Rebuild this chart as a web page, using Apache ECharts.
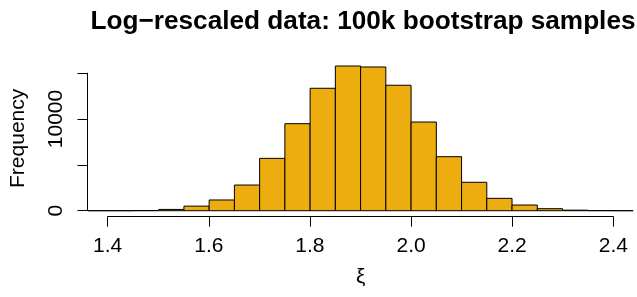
<!DOCTYPE html>
<html>
<head>
<meta charset="utf-8">
<script src="https://cdn.jsdelivr.net/npm/echarts@6/dist/echarts.min.js"></script>
<style>
  html, body { margin: 0; padding: 0; background: #fff; }
  #chart { width: 637px; height: 297px; }
</style>
</head>
<body>
<div id="chart"></div>
<script>
// histogram bins (0.05 wide) and counts
const binStarts = [1.35, 1.40, 1.45, 1.50, 1.55, 1.60, 1.65, 1.70, 1.75, 1.80, 1.85,
                   1.90, 1.95, 2.00, 2.05, 2.10, 2.15, 2.20, 2.25, 2.30, 2.35, 2.40];
const binWidth = 0.05;
const counts = [0, 2, 15, 140, 500, 1170, 2800, 5710, 9490, 13350, 15780,
                15670, 13680, 9670, 5890, 3100, 1350, 620, 220, 60, 10, 2];
const xTicks = [1.4, 1.6, 1.8, 2.0, 2.2, 2.4];
const yTicks = [0, 5000, 10000, 15000];
const yTickLabels = ['0', '', '10000', ''];

const font = "'Liberation Sans', Arial, Helvetica, sans-serif";

const histData = binStarts.map((s, i) => [s, +(s + binWidth).toFixed(2), counts[i]]);

const chart = echarts.init(document.getElementById('chart'));

chart.setOption({
  animation: false,
  title: {
    text: 'Log\u2212rescaled data: 100k bootstrap samples',
    left: 358,
    top: 4,
    textAlign: 'center',
    textStyle: { fontFamily: font, fontSize: 26.2, fontWeight: 'bold', color: '#000' }
  },
  grid: [
    // plot region (R usr with 4% padding)
    { left: 87.5, right: 3.8, top: 60.2, bottom: 80.5 },
    // x axis, spans 1.4 .. 2.4 only
    { left: 107.7, right: 23.7, top: 60.2, bottom: 80.3 },
    // y axis, spans 0 .. 15000 only
    { left: 87.5, right: 3.8, top: 73.2, bottom: 86.3 }
  ],
  xAxis: [
    {
      gridIndex: 0, type: 'value', min: 1.36, max: 2.44,
      axisLine: { show: false }, axisTick: { show: false },
      axisLabel: { show: false }, splitLine: { show: false },
      name: '\u03be', nameLocation: 'middle', nameGap: 50,
      nameTextStyle: { fontFamily: font, fontSize: 21, color: '#000' }
    },
    {
      gridIndex: 1, type: 'value', min: xTicks[0], max: xTicks[xTicks.length - 1], interval: 0.2,
      axisLine: { show: true, onZero: false, lineStyle: { color: '#000', width: 1 } },
      axisTick: { show: true, inside: false, length: 10, lineStyle: { color: '#000', width: 1 } },
      axisLabel: {
        margin: 19, fontFamily: font, fontSize: 21, color: '#000',
        formatter: v => v.toFixed(1)
      },
      splitLine: { show: false }
    },
    {
      gridIndex: 2, type: 'value', min: 0, max: 1, show: false
    }
  ],
  yAxis: [
    {
      gridIndex: 0, type: 'value', min: -631, max: 16411,
      axisLine: { show: false }, axisTick: { show: false },
      axisLabel: { show: false }, splitLine: { show: false },
      name: 'Frequency', nameLocation: 'middle', nameGap: 59, nameRotate: 90,
      nameTextStyle: { fontFamily: font, fontSize: 21, color: '#000' }
    },
    {
      gridIndex: 1, type: 'value', min: 0, max: 1, show: false
    },
    {
      gridIndex: 2, type: 'value', min: yTicks[0], max: yTicks[yTicks.length - 1], interval: 5000,
      axisLine: { show: true, onZero: false, lineStyle: { color: '#000', width: 1 } },
      axisTick: { show: true, inside: false, length: 10, lineStyle: { color: '#000', width: 1 } },
      axisLabel: {
        margin: 21, rotate: 90, fontFamily: font, fontSize: 21, color: '#000',
        formatter: v => yTickLabels[yTicks.indexOf(v)] || ''
      },
      splitLine: { show: false }
    }
  ],
  series: [
    {
      type: 'custom',
      xAxisIndex: 0,
      yAxisIndex: 0,
      data: histData,
      encode: { x: [0, 1], y: 2 },
      renderItem: function (params, api) {
        const p0 = api.coord([api.value(0), api.value(2)]);
        const p1 = api.coord([api.value(1), 0]);
        const rect = echarts.graphic.clipRectByRect({
          x: p0[0], y: p0[1], width: p1[0] - p0[0], height: p1[1] - p0[1]
        }, {
          x: params.coordSys.x, y: params.coordSys.y,
          width: params.coordSys.width, height: params.coordSys.height
        });
        return rect && {
          type: 'rect',
          shape: rect,
          style: { fill: '#EEAD0E', stroke: '#000', lineWidth: 1 }
        };
      }
    }
  ]
});
</script>
</body>
</html>
